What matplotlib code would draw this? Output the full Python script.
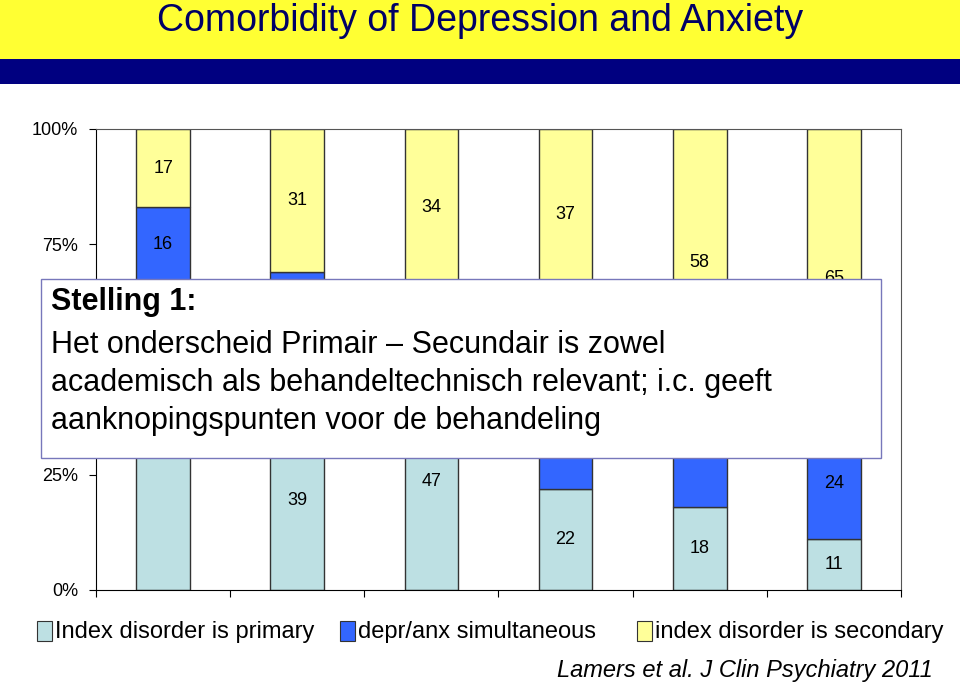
import matplotlib.pyplot as plt
from matplotlib.patches import Rectangle
import numpy as np

plt.rcParams['font.family'] = ['Liberation Sans', 'DejaVu Sans']

# data (percentages per group)
primary = [67, 39, 47, 22, 18, 11]
simultaneous = [16, 30, 19, 41, 24, 24]
secondary = [17, 31, 34, 37, 58, 65]
series_names = ['Index disorder is primary', 'depr/anx simultaneous', 'index disorder is secondary']
colors = ['#bde0e3', '#3366ff', '#ffff99']
# labels shown in the original (some are hidden behind the text box)
show_primary = [None, 39, 47, 22, 18, 11]
show_simul = [16, None, None, None, None, 24]
show_second = [17, 31, 34, 37, 58, 65]
# the 50% label sits behind the statement box in the original
ytick_labels = ['0%', '25%', '', '75%', '100%']

fig = plt.figure(figsize=(9.6, 6.84), dpi=100)

# slide header
fig.patches.append(Rectangle((0, 1 - 59 / 684), 1, 59 / 684, transform=fig.transFigure,
                             facecolor='#ffff33', edgecolor='none', zorder=0))
fig.patches.append(Rectangle((0, 1 - 84 / 684), 1, 25 / 684, transform=fig.transFigure,
                             facecolor='#000080', edgecolor='none', zorder=0))
fig.text(0.5, 1 - 21 / 684, 'Comorbidity of Depression and Anxiety', ha='center', va='center',
         fontsize=27, color='#000066')

ax = fig.add_axes([96 / 960, 1 - 590 / 684, 805 / 960, 461 / 684])
x = np.arange(len(primary))
w = 0.4
ec = '#333333'
ax.bar(x, primary, w, color=colors[0], edgecolor=ec, linewidth=1, zorder=2)
ax.bar(x, simultaneous, w, bottom=primary, color=colors[1], edgecolor=ec, linewidth=1, zorder=2)
bottom2 = np.array(primary) + np.array(simultaneous)
ax.bar(x, secondary, w, bottom=bottom2, color=colors[2], edgecolor=ec, linewidth=1, zorder=2)

for i in range(len(x)):
    if show_primary[i] is not None:
        ax.text(x[i], primary[i] / 2, str(show_primary[i]), ha='center', va='center', fontsize=13)
    if show_simul[i] is not None:
        ax.text(x[i], primary[i] + simultaneous[i] / 2, str(show_simul[i]),
                ha='center', va='center', fontsize=13)
    if show_second[i] is not None:
        ax.text(x[i], bottom2[i] + secondary[i] / 2, str(show_second[i]),
                ha='center', va='center', fontsize=13)

ax.set_xlim(-0.5, 5.5)
ax.set_ylim(0, 100)
ax.set_yticks([0, 25, 50, 75, 100])
ax.set_yticklabels(ytick_labels, fontsize=13)
ax.set_xticks(np.arange(-0.5, 6, 1))
ax.set_xticklabels([])
ax.tick_params(axis='x', length=5, direction='out')
ax.tick_params(axis='y', length=5, direction='out', pad=8)
for s in ['top', 'right']:
    ax.spines[s].set_color('#555555')

# overlay statement box
fig.patches.append(Rectangle((41 / 960, 1 - 458 / 684), 840 / 960, 179 / 684,
                             transform=fig.transFigure, facecolor='white',
                             edgecolor='#7777bb', linewidth=1, zorder=5))
fig.text(51 / 960, 1 - 302 / 684, 'Stelling 1:', fontsize=22, fontweight='bold',
         va='center', ha='left', zorder=6)
lines = ['Het onderscheid Primair \u2013 Secundair is zowel',
         'academisch als behandeltechnisch relevant; i.c. geeft',
         'aanknopingspunten voor de behandeling']
for k, t in enumerate(lines):
    fig.text(51 / 960, 1 - (345 + 38 * k) / 684, t, fontsize=22, va='center', ha='left',
             zorder=6)

# legend
leg_x = [37, 340, 637]
for lx, name, c in zip(leg_x, series_names, colors):
    fig.patches.append(Rectangle((lx / 960, 1 - 641 / 684), 15 / 960, 20 / 684,
                                 transform=fig.transFigure, facecolor=c, edgecolor=ec,
                                 linewidth=0.8))
    fig.text((lx + 18) / 960, 1 - 632 / 684, name, fontsize=17, va='center', ha='left')

fig.text(933 / 960, 1 - 670 / 684, 'Lamers et al. J Clin Psychiatry 2011', fontsize=17,
         style='italic', ha='right', va='center')

fig.savefig('out.png', dpi=100)
